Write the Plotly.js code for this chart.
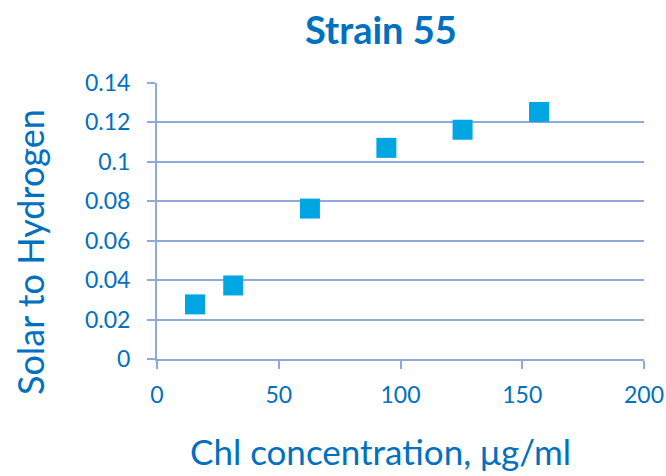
<!doctype html>
<html>
<head>
    <meta charset="utf-8">
    <title>Strain 55</title>
    <style>
        body {margin: 0; background: #fff;}
        text {font-variant-ligatures: none;}
    </style>
    <script src="https://cdn.plot.ly/plotly-3.0.1.min.js"></script>
</head>
<body>
    <div id="chart_strain55"></div>
    <script>
        // ====== DATA ==================================================
        let chlConc = [15.6, 31.3, 62.8, 94.2, 125.5, 156.9];
        let solarToH2 = [0.0277, 0.0373, 0.0763, 0.1071, 0.1163, 0.1253];
        let xTicks = [0, 50, 100, 150, 200];
        let yTicks = [0, 0.02, 0.04, 0.06, 0.08, 0.1, 0.12, 0.14];
        let yTickText = ['0', '0.02', '0.04', '0.06', '0.08', '0.1', '0.12', '0.14'];
        let xTitle = 'Chl concentration, μg/ml';
        let yTitle = 'Solar to Hydrogen';

        // ====== SETTINGS ==================================================
        let textBlue = '#0070c0';
        let gridBlue = '#8eaad8';
        let fontName = 'Lato, "Open Sans", sans-serif';

        let layout = {
            width: 666,
            height: 476,
            margin: {l: 157, r: 22, t: 83, b: 117},
            paper_bgcolor: '#ffffff',
            plot_bgcolor: '#ffffff',
            showlegend: false,
            font: {family: fontName, color: textBlue},
            title: {
                text: '<b>Strain 55</b>',
                font: {size: 38, color: textBlue, family: fontName},
                x: 0.572,
                xanchor: 'center',
                y: 0.935,
                yanchor: 'middle',
            },
            xaxis: {
                range: [0, 200],
                tickmode: 'array',
                tickvals: xTicks,
                showgrid: false,
                zeroline: false,
                showline: true,
                linecolor: gridBlue,
                linewidth: 2,
                ticks: 'outside',
                ticklen: 8,
                tickwidth: 2,
                tickcolor: gridBlue,
                ticklabelstandoff: 6,
                tickfont: {size: 23, color: textBlue},
            },
            yaxis: {
                range: [0, 0.14],
                tickmode: 'array',
                tickvals: yTicks,
                ticktext: yTickText,
                showgrid: true,
                gridcolor: gridBlue,
                gridwidth: 2,
                zeroline: false,
                showline: true,
                linecolor: gridBlue,
                linewidth: 2,
                ticks: 'outside',
                ticklen: 8,
                tickwidth: 2,
                tickcolor: gridBlue,
                ticklabelstandoff: 12,
                tickfont: {size: 23, color: textBlue},
            },
            // axis titles placed like the original (centred on the chart, not the plot)
            annotations: [
                {
                    text: xTitle,
                    xref: 'paper', yref: 'paper',
                    x: 0.458, y: -0.335,
                    xanchor: 'center', yanchor: 'middle',
                    showarrow: false,
                    font: {size: 35, color: textBlue},
                },
                {
                    text: yTitle,
                    xref: 'paper', yref: 'paper',
                    x: -0.2608, y: 0.3877,
                    xanchor: 'center', yanchor: 'middle',
                    textangle: -90,
                    showarrow: false,
                    font: {size: 36, color: textBlue},
                },
            ],
        };

        let config = {
            displayModeBar: false,
            staticPlot: true,
        };

        // ====== PLOT ==================================================
        let traces = [{
            x: chlConc,
            y: solarToH2,
            type: 'scatter',
            mode: 'markers',
            marker: {
                symbol: 'square',
                size: 20,
                color: '#00a6e2',
            },
            cliponaxis: false,
        }];

        Plotly.newPlot(document.getElementById('chart_strain55'), traces, layout, config);
    </script>
</body>
</html>
